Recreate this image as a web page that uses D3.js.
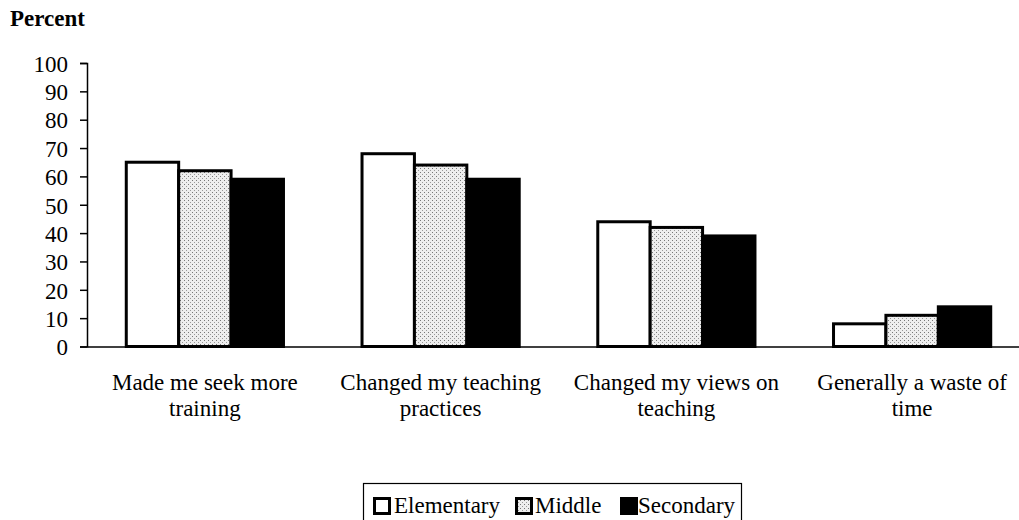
<!DOCTYPE html>
<html><head><meta charset="utf-8">
<script src="https://cdn.jsdelivr.net/npm/d3@7"></script>
<style>body{margin:0;background:#fff}svg{display:block}text{font-family:"Liberation Serif","Times New Roman",serif;fill:#000}</style>
</head><body>
<script>
const categories = [["Made me seek more","training"],["Changed my teaching","practices"],["Changed my views on","teaching"],["Generally a waste of","time"]];
const seriesNames = ["Elementary","Middle","Secondary"];
const elementary = [65, 68, 44, 8];
const middle = [62, 64, 42, 11];
const secondary = [59, 59, 39, 14];
const yTicks = [0,10,20,30,40,50,60,70,80,90,100];

const W=1019,H=520;
const svg=d3.select("body").append("svg").attr("width",W).attr("height",H);
const defs=svg.append("defs");
const pat=defs.append("pattern").attr("id","stip").attr("patternUnits","userSpaceOnUse").attr("width",4).attr("height",4);
pat.append("rect").attr("width",4).attr("height",4).attr("fill","#eeeeee");
pat.append("rect").attr("x",0).attr("y",0).attr("width",1).attr("height",1).attr("fill","#777");
pat.append("rect").attr("x",2).attr("y",2).attr("width",1).attr("height",1).attr("fill","#999");

const x0=d3.scaleBand().domain(d3.range(4)).range([87,1030]).paddingInner(0).paddingOuter(0);
const y=d3.scaleLinear().domain([0,100]).range([346.5,63]);
const bw=52.4;
const data=[elementary,middle,secondary];
const fills=["#fff","url(#stip)","#000"];

svg.append("text").attr("x",10).attr("y",26).attr("font-size",23).attr("font-weight","bold").text("Percent");

// bars
data.forEach((vals,s)=>{
  svg.append("g").selectAll("rect").data(vals).join("rect")
    .attr("x",(d,i)=>x0(i)+x0.bandwidth()/2-1.5*bw+s*bw)
    .attr("y",d=>y(d))
    .attr("width",bw).attr("height",d=>y(0)-y(d))
    .attr("fill",fills[s]).attr("stroke","#000").attr("stroke-width",3);
});

// y axis
const ya=svg.append("g").attr("transform","translate(87,0)")
  .call(d3.axisLeft(y).tickValues(yTicks).tickSize(7).tickPadding(12));
ya.select(".domain").attr("stroke","#000").attr("stroke-width",1.5);
ya.selectAll(".tick line").attr("stroke","#000").attr("stroke-width",1.5);
ya.selectAll(".tick text").attr("font-size",23).attr("font-family","Liberation Serif").attr("fill","#000").attr("dy","0.36em");

// x axis
const xa=svg.append("g").attr("transform",`translate(0,${y(0)})`).call(d3.axisBottom(x0).tickSize(0).tickFormat(""));
xa.select(".domain").attr("stroke","#000").attr("stroke-width",1.5);

categories.forEach((lines,i)=>{
  const t=svg.append("text").attr("x",x0(i)+x0.bandwidth()/2).attr("text-anchor","middle").attr("font-size",23);
  lines.forEach((l,k)=>t.append("tspan").attr("x",x0(i)+x0.bandwidth()/2).attr("y",390+k*26).text(l));
});

// legend
const lg=svg.append("g");
lg.append("rect").attr("x",363.5).attr("y",483.5).attr("width",378).attr("height",45).attr("fill","#fff").attr("stroke","#000").attr("stroke-width",1.2);
const lx=[373,515,620], tx=[394,535,638];
seriesNames.forEach((n,i)=>{
  lg.append("rect").attr("x",lx[i]+1.5).attr("y",498.5).attr("width",15).attr("height",15)
    .attr("fill",fills[i]).attr("stroke","#000").attr("stroke-width",3);
  lg.append("text").attr("x",tx[i]).attr("y",513).attr("font-size",23).text(n);
});
</script>
</body></html>
